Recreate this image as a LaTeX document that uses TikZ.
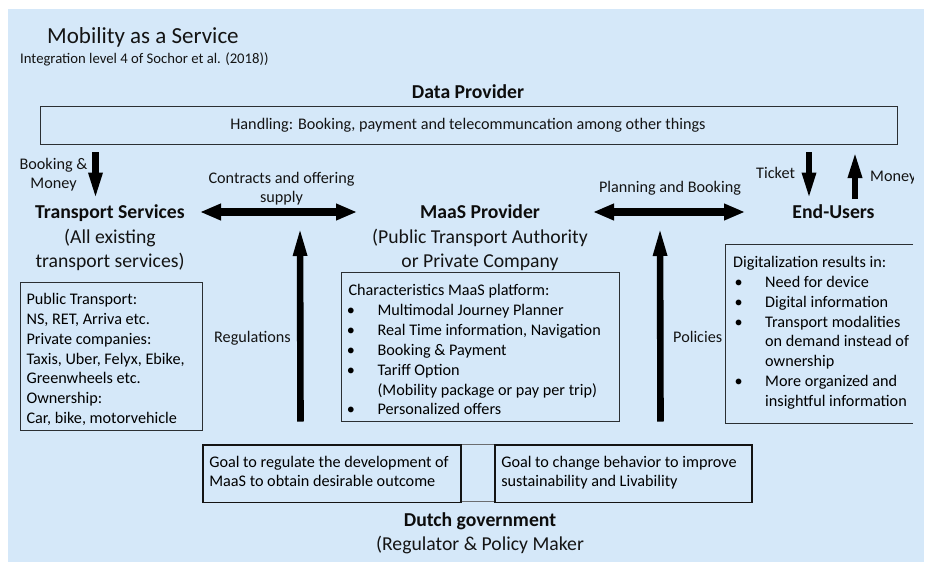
\documentclass[tikz,border=0pt]{standalone}
\usepackage{fontspec}
\setmainfont{Carlito}
\usetikzlibrary{arrows.meta}
\definecolor{bgblue}{HTML}{D5E8F9}
\definecolor{frame}{HTML}{2B2F33}
\newcommand{\bl}{\makebox[0pt][l]{\hspace*{-1.6pt}\textbullet}\hspace*{29pt}}
\newcommand{\cn}{\hspace*{29pt}}
\newcommand{\boxtext}[3]{\parbox[t][#1pt][t]{#2pt}{\raggedright\fontsize{16.2}{19.85}\selectfont\vspace*{0pt}#3}}
\tikzset{
  small/.style={font=\fontsize{16.2}{19}\selectfont,inner sep=0pt,text=black!92},
  large/.style={font=\fontsize{19.7}{24}\selectfont,inner sep=0pt,text=black!92},
  head/.style={font=\fontsize{19.7}{24}\selectfont\bfseries,inner sep=0pt,text=black!95},
  title/.style={font=\fontsize{23}{27}\selectfont,inner sep=0pt,text=black!92},
  subtitle/.style={font=\fontsize{14.7}{16}\selectfont,inner sep=0pt,text=black!92},
  framebox/.style={draw=frame,line width=1.1pt,anchor=north west,inner xsep=6.5pt,inner ysep=0pt},
  goalbox/.style={framebox,draw=black!92,line width=1.6pt},
  narrow/.style={line width=6.6pt,-{Triangle[length=28pt,width=12.5pt]}},
  tall/.style={line width=6.6pt,-{Triangle[length=30pt,width=12.5pt]}},
  wide/.style={line width=7.5pt,{Triangle[length=21pt,width=15.5pt]}-{Triangle[length=21pt,width=15.5pt]}}
}
\begin{document}
\begin{tikzpicture}[x=1pt,y=-1pt]
\useasboundingbox (0,0) rectangle (928,562);
\fill[white] (0,0) rectangle (928,562);
\fill[bgblue] (8,9) rectangle (924,562);

\node[title,anchor=base west] (ttl) at (47,43) {Mobility as a Service};
\node[subtitle,anchor=base west] (sub) at (20,63.5) {Integration level 4 of Sochor et al. (2018))};

\node[head,anchor=base] (dp) at (468,98.5) {Data Provider};
\node[framebox,minimum width=857pt,minimum height=37.5pt] (data) at (40,106) {};
\node[small,anchor=base] (hand) at (468,129) {Handling: Booking, payment and telecommuncation among other things};

\node[small,anchor=base] (bm1) at (53.5,169.5) {Booking \&};
\node[small,anchor=base] (bm2) at (53.5,188.5) {Money};
\node[small,anchor=base] (cs1) at (281.5,183.5) {Contracts and offering};
\node[small,anchor=base] (cs2) at (281.5,202.5) {supply};
\node[small,anchor=base] (pb) at (670,192.5) {Planning and Booking};
\node[small,anchor=base west] (tk) at (756,178.5) {Ticket};
\begin{scope}
\clip (865,165) rectangle (913,195);
\node[small,anchor=base west] (mn) at (870,181.5) {Money};
\end{scope}

\node[head,anchor=base] (ts) at (110,218.5) {Transport Services};
\node[large,anchor=base] (ts1) at (110,243.5) {(All existing};
\node[large,anchor=base] (ts2) at (110,267.5) {transport services)};
\node[head,anchor=base] (mp) at (480,218.5) {MaaS Provider};
\node[large,anchor=base] (mp1) at (480,243.5) {(Public Transport Authority};
\node[large,anchor=base] (mp2) at (480,267.5) {or Private Company};
\node[head,anchor=base] (eu) at (833.5,218.5) {End-Users};

\node[framebox] (tbox) at (19.5,282) {\boxtext{148}{169}{\vspace*{8pt}\strut Public Transport:\\\strut NS, RET, Arriva etc.\\\strut Private companies:\\\strut Taxis, Uber, Felyx, Ebike,\\\strut Greenwheels etc.\\\strut Ownership:\\\strut Car, bike, motorvehicle}};
\node[framebox,inner xsep=7.5pt] (mbox) at (340.5,272) {\boxtext{149}{263}{\vspace*{9.4pt}\strut Characteristics MaaS platform:\\\strut\bl Multimodal Journey Planner\\\strut\bl Real Time information, Navigation\\\strut\bl Booking \& Payment\\\strut\bl Tariff Option\\\strut\cn(Mobility package or pay per trip)\\\strut\bl Personalized offers}};

\node[small,anchor=base west] (reg) at (214,342.5) {Regulations};
\node[small,anchor=base west] (pol) at (673,342.5) {Policies};

\node[anchor=north west,inner sep=0pt] (dtext) at (733,245) {\boxtext{178}{180}{\vspace*{8.4pt}\strut Digitalization results in:\\\strut\hspace*{3pt}\bl Need for device\\\strut\hspace*{3pt}\bl Digital information\\\strut\hspace*{3pt}\bl Transport modalities\\\strut\hspace*{3pt}\cn on demand instead of\\\strut\hspace*{3pt}\cn ownership\\\strut\hspace*{3pt}\bl More organized and\\\strut\hspace*{3pt}\cn insightful information}};
\draw[frame,line width=1pt] (913,244.5) -- (725.5,244.5) -- (725.5,423) -- (913,423);

\draw[draw=frame!70,line width=0.7pt] (459.5,444) -- (494,444) (459.5,501.5) -- (494,501.5);
\node[goalbox] (gl) at (202,444) {\boxtext{57.5}{245}{\vspace*{8.4pt}\strut Goal to regulate the development of\\\strut MaaS to obtain desirable outcome}};
\node[goalbox] (gr) at (494,444) {\boxtext{57.5}{244}{\vspace*{8.4pt}\strut Goal to change behavior to improve\\\strut sustainability and Livability}};

\node[head,anchor=base] (dg) at (480,526.5) {Dutch government};
\node[large,anchor=base] (dg1) at (480,550.5) {(Regulator \& Policy Maker};

\coordinate (a1s) at (95.5,152); \coordinate (a1e) at (95.5,200.5);
\coordinate (a2s) at (200,212); \coordinate (a2e) at (357,212);
\coordinate (a3s) at (300.5,421.5); \coordinate (a3e) at (300,226);
\coordinate (a4s) at (660.5,421.5); \coordinate (a4e) at (660,226);
\coordinate (a5s) at (593,212); \coordinate (a5e) at (745,212);
\coordinate (a6s) at (809,152); \coordinate (a6e) at (809,200.5);
\coordinate (a7s) at (855,199); \coordinate (a7e) at (855,150);
\draw[narrow] (a1s) -- (a1e);
\draw[wide] (a2s) -- (a2e);
\draw[tall] (a3s) -- (a3e);
\draw[tall] (a4s) -- (a4e);
\draw[wide] (a5s) -- (a5e);
\draw[narrow] (a6s) -- (a6e);
\draw[narrow] (a7s) -- (a7e);
\end{tikzpicture}
\end{document}
